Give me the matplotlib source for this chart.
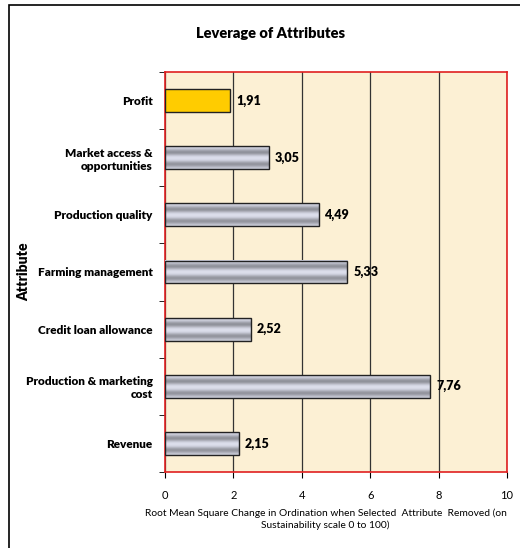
import numpy as np
import matplotlib.pyplot as plt
from matplotlib.patches import Rectangle

# data (top to bottom as shown)
attributes = ['Profit', 'Market access &\nopportunities', 'Production quality',
              'Farming management', 'Credit loan allowance',
              'Production & marketing\ncost', 'Revenue']
leverage = [1.91, 3.05, 4.49, 5.33, 2.52, 7.76, 2.15]
highlight = 'Profit'

plt.rcParams['font.family'] = ['Lato', 'DejaVu Sans']

fig = plt.figure(figsize=(5.2, 5.48), dpi=100)
ax = fig.add_axes([165 / 520, 1 - 472 / 548, 342 / 520, 400 / 548])

# outer chart frame
fig.patches.append(Rectangle((9 / 520, -0.1), 1.2, 1 - 5 / 548 + 0.1,
                             transform=fig.transFigure, fill=False,
                             edgecolor='black', linewidth=1.2))

ax.set_facecolor('#fcf0d4')
n = len(attributes)
ypos = np.arange(n)[::-1]
bar_h = 0.4

# cylinder-like gray shading
shade = np.array([0.86, 0.80, 0.62, 0.55, 0.72, 0.88, 0.90, 0.84, 0.66, 0.56, 0.68, 0.82])
tint = np.array([0.97, 0.98, 1.04])
grad = np.clip(shade[:, None] * tint[None, :], 0, 1)[:, None, :]

for name, v, y in zip(attributes, leverage, ypos):
    if name == highlight:
        ax.barh(y, v, height=bar_h, color='#ffcc00', edgecolor='#222222',
                linewidth=1.0, zorder=3)
    else:
        ax.imshow(grad, extent=(0, v, y - bar_h / 2, y + bar_h / 2),
                  aspect='auto', interpolation='bicubic', zorder=3)
        ax.barh(y, v, height=bar_h, color='none', edgecolor='#222222',
                linewidth=1.0, zorder=4)
    ax.text(v + 0.17, y, f'{v:.2f}'.replace('.', ','), va='center', ha='left',
            fontsize=9, fontweight='heavy', zorder=5)

ax.set_xlim(0, 10)
ax.set_ylim(-0.5, n - 0.5)
ax.set_xticks([0, 2, 4, 6, 8, 10])
ax.set_xticklabels(['0', '2', '4', '6', '8', '10'], fontsize=8)
ax.set_yticks(ypos)
ax.set_yticklabels(attributes, fontsize=8.5, fontweight='heavy')
ax.set_yticks(np.arange(n + 1) - 0.5, minor=True)
ax.tick_params(axis='y', which='major', length=0, pad=9)
ax.tick_params(axis='y', which='minor', length=4, direction='out')
ax.tick_params(axis='x', length=4, direction='out', pad=9)
ax.grid(axis='x', color='#333333', linewidth=0.9, zorder=1)
ax.set_axisbelow(True)

for side in ['top', 'right', 'left', 'bottom']:
    ax.spines[side].set_color('#e02020')
    ax.spines[side].set_linewidth(1.2)

fig.text(270 / 520, 1 - 33 / 548, 'Leverage of Attributes', ha='center', va='center',
         fontsize=10.5, fontweight='heavy')
ax.set_ylabel('Attribute', fontsize=10, fontweight='heavy')
ax.yaxis.set_label_coords(-0.395, 0.5, transform=ax.transAxes)
ax.set_xlabel('Root Mean Square Change in Ordination when Selected  Attribute  Removed (on\n'
              'Sustainability scale 0 to 100)', fontsize=7.4, linespacing=1.35)
ax.xaxis.set_label_coords(0.47, -0.09, transform=ax.transAxes)
ax.xaxis.label.set_va('top')

fig.savefig('out.png', dpi=100)
